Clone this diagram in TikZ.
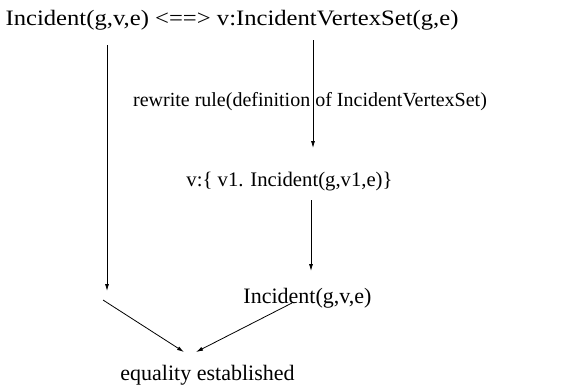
\documentclass[tikz,border=0pt]{standalone}
\usepackage{fontspec}
\setmainfont{Liberation Serif}
\usetikzlibrary{arrows.meta}
\begin{document}
\begin{tikzpicture}[x=1pt,y=-1pt,
  lbl/.style={inner sep=0pt, font=\fontsize{22}{24}\selectfont},
  conn/.style={line width=0.8pt, -{Latex[length=7pt,width=4pt]}}]
\useasboundingbox (0,0) rectangle (563,389);
\node[lbl, xscale=1.12, transform shape] (top) at (232,20) {Incident(g,v,e) <==> v:IncidentVertexSet(g,e)};
\node[lbl, font=\fontsize{20}{22}\selectfont] (rw) at (310,102) {rewrite rule(definition of IncidentVertexSet)};
\node[lbl, font=\fontsize{20.7}{22}\selectfont] (vset) at (289.5,182) {v:\{ v1. Incident(g,v1,e)\}};
\node[lbl] (inc) at (307.5,298) {Incident(g,v,e)};
\node[lbl] (eq) at (207.5,375) {equality established};
\coordinate (l1) at (107,45);
\coordinate (l2) at (107,291);
\coordinate (r1) at (313,40);
\coordinate (r2) at (313,148);
\coordinate (r3) at (311,200);
\coordinate (r4) at (311,271);
\coordinate (d1) at (103,300);
\coordinate (d2) at (184,352);
\coordinate (d3) at (292,303);
\coordinate (d4) at (196,352);
\draw[conn] (l1) -- (l2);
\draw[conn] (r1) -- (r2);
\draw[conn] (r3) -- (r4);
\draw[conn] (d1) -- (d2);
\draw[conn] (d3) -- (d4);
\end{tikzpicture}
\end{document}
